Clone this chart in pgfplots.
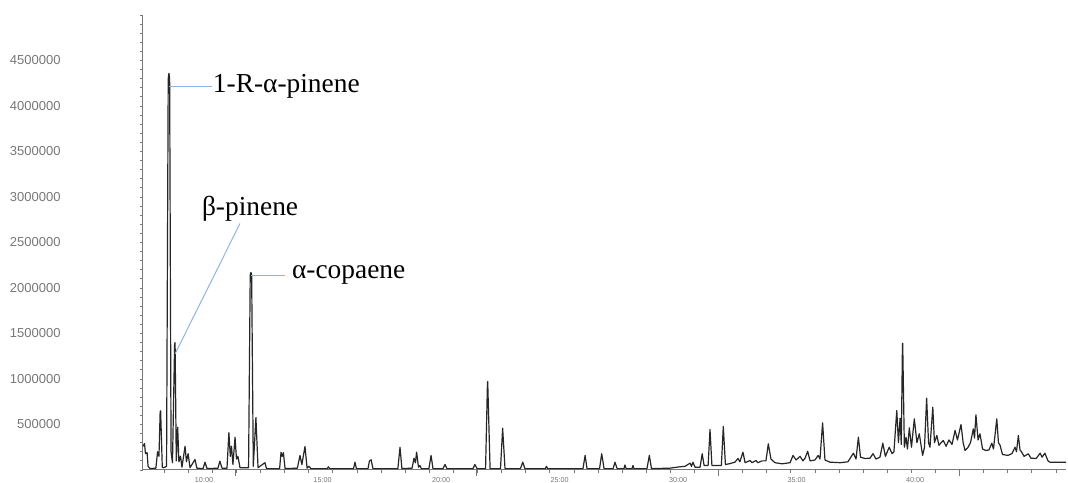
\documentclass[border=0pt]{standalone}
\usepackage{fontspec}
\usepackage{pgfplots}
\pgfplotsset{compat=1.18}
\setmainfont{Liberation Serif}
\newfontfamily\tickfont{Liberation Sans}
\definecolor{lead}{HTML}{8DB4E2}
\definecolor{tickgray}{HTML}{777777}
\begin{document}
\begin{tikzpicture}
\begin{axis}[
  name=ax,
  scale only axis,
  width=461.5pt, height=227.5pt,
  xmin=7.426, xmax=46.37,
  ymin=0, ymax=5000000,
  axis x line=bottom, axis y line=left,
  axis line style={-, draw=tickgray, line width=0.5pt},
  clip=false,
  tick align=outside,
  major tick length=0pt,
  minor tick length=1.4pt,
  every tick/.style={draw=tickgray, line width=0.4pt},
  xtick={10,15,20,25,30,35,40},
  xticklabels={10:00,15:00,20:00,25:00,30:00,35:00,40:00},
  minor xtick={8.32,9.3369,...,46.3},
  extra x ticks={11.31,21.48,31.69,41.86},
  extra x tick labels={},
  extra x tick style={major tick length=3pt},
  ytick={500000,1000000,1500000,2000000,2500000,3000000,3500000,4000000,4500000},
  yticklabels={500000,1000000,1500000,2000000,2500000,3000000,3500000,4000000,4500000},
  minor ytick={0,100000,...,5000000},
  scaled y ticks=false,
  xticklabel style={font=\tickfont\fontsize{3.6}{4}\selectfont, text=tickgray, anchor=center, yshift=-5pt},
  yticklabel style={font=\tickfont\fontsize{6.5}{7}\selectfont, text=tickgray, anchor=east, inner sep=0pt, xshift=-41pt},
]
\addplot[black!85, line width=0.6pt, line join=round] coordinates {
(7.43,260000) (7.49,290000) (7.53,180000) (7.60,190000) (7.64,40000) (7.72,15000)
(7.97,20000) (8.04,200000) (8.10,150000) (8.15,640000) (8.17,650000) (8.24,30000) (8.31,25000)
(8.42,40000) (8.49,4300000) (8.52,4360000) (8.55,4300000) (8.61,200000) (8.67,80000) (8.76,1380000) (8.78,1400000) (8.83,100000)
(8.89,470000) (8.94,90000) (9.01,150000) (9.07,30000) (9.20,260000) (9.26,90000)
(9.33,180000) (9.41,25000) (9.62,115000) (9.70,20000) (9.96,15000) (10.04,85000)
(10.13,15000) (10.59,20000) (10.67,97000) (10.76,20000) (10.97,20000) (11.05,410000)
(11.11,150000) (11.16,260000) (11.22,60000) (11.31,360000) (11.37,120000) (11.43,150000)
(11.52,25000) (11.88,25000) (11.95,2150000) (11.98,2170000) (12.01,2150000) (12.08,40000) (12.19,577000) (12.28,25000)
(12.57,80000) (12.64,15000) (13.19,15000) (13.25,195000) (13.30,150000) (13.35,190000)
(13.42,15000) (13.94,20000) (14.05,160000) (14.13,60000) (14.26,258000) (14.35,20000)
(14.43,40000) (14.51,15000) (15.20,15000) (15.25,35000) (15.30,15000) (16.31,15000) (16.37,86000) (16.43,15000) (16.92,15000)
(16.98,100000) (17.05,112000) (17.13,15000) (18.18,15000) (18.27,250000) (18.35,15000)
(18.78,20000) (18.86,130000) (18.92,80000) (18.97,196000) (19.05,30000) (19.11,50000)
(19.17,15000) (19.49,15000) (19.58,160000) (19.66,15000) (20.08,15000) (20.17,60000)
(20.25,15000) (21.35,15000) (21.43,60000) (21.52,15000) (21.88,15000) (21.96,960000) (21.97,972000)
(22.07,15000) (22.51,15000) (22.60,460000) (22.70,15000) (23.35,15000) (23.45,86000)
(23.54,15000) (24.40,15000) (24.45,40000) (24.50,15000) (25.99,15000) (26.08,160000) (26.16,15000) (26.69,15000) (26.78,178000)
(26.88,15000) (27.26,15000) (27.34,86000) (27.43,15000) (27.72,15000) (27.76,55000)
(27.81,15000) (28.06,15000) (28.10,50000) (28.14,15000) (28.69,15000) (28.79,160000)
(28.88,15000) (29.66,20000) (30.08,35000) (30.29,40000) (30.51,75000) (30.57,40000)
(30.63,86000) (30.72,30000) (30.93,30000) (31.02,178000) (31.10,50000) (31.27,50000)
(31.35,445000) (31.43,50000) (31.83,50000) (31.91,478000) (32.00,60000) (32.19,70000)
(32.40,86000) (32.53,126000) (32.61,90000) (32.74,196000) (32.83,80000) (33.04,104000)
(33.12,80000) (33.29,104000) (33.37,80000) (33.54,100000) (33.71,100000) (33.81,288000)
(33.92,120000) (34.09,80000) (34.39,68000) (34.73,80000) (34.85,160000) (34.98,110000)
(35.15,150000) (35.27,100000) (35.36,130000) (35.47,206000) (35.57,100000) (35.78,110000)
(35.91,160000) (35.99,120000) (36.10,518000) (36.20,110000) (36.41,86000) (36.84,80000)
(37.17,90000) (37.40,185000) (37.51,120000) (37.61,360000) (37.70,140000) (37.89,126000)
(38.10,130000) (38.23,180000) (38.35,120000) (38.52,140000) (38.64,295000) (38.75,150000)
(38.91,250000) (39.03,180000) (39.11,200000) (39.23,654000) (39.30,300000) (39.37,570000)
(39.42,280000) (39.47,1380000) (39.48,1393000) (39.55,250000) (39.62,360000) (39.68,230000) (39.76,463000)
(39.85,250000) (39.97,562000) (40.08,300000) (40.18,398000) (40.32,160000) (40.40,250000)
(40.49,789000) (40.57,300000) (40.63,250000) (40.75,690000) (40.82,300000) (40.92,379000)
(41.01,270000) (41.10,300000) (41.19,324000) (41.31,260000) (41.43,330000) (41.56,280000)
(41.69,434000) (41.79,330000) (41.94,500000) (42.03,300000) (42.11,214000) (42.24,250000)
(42.34,300000) (42.46,452000) (42.51,350000) (42.57,606000) (42.66,330000) (42.74,398000)
(42.85,230000) (42.99,214000) (43.12,220000) (43.24,295000) (43.31,230000) (43.45,562000)
(43.52,300000) (43.59,270000) (43.69,170000) (43.92,160000) (44.09,180000) (44.22,250000)
(44.28,200000) (44.36,379000) (44.43,220000) (44.50,196000) (44.60,150000) (44.78,178000)
(44.89,130000) (45.11,126000) (45.28,185000) (45.36,140000) (45.48,185000) (45.61,100000)
(45.69,86000) (46.37,86000)
};
% leader lines
\draw[lead, line width=0.5pt] (axis cs:8.52,4218000) -- (axis cs:10.34,4218000);
\draw[lead, line width=0.5pt] (axis cs:11.52,2709000) -- (axis cs:8.78,1277000);
\draw[lead, line width=0.5pt] (axis cs:11.98,2137000) -- (axis cs:13.42,2137000);
\node[anchor=west, inner sep=0pt, font=\fontsize{13.7}{15}\selectfont] at (axis cs:10.36,4218000) {1-R-α-pinene};
\node[anchor=west, inner sep=0pt, font=\fontsize{13.7}{15}\selectfont] at (axis cs:9.90,2874000) {β-pinene};
\node[anchor=west, inner sep=0pt, font=\fontsize{13.7}{15}\selectfont] at (axis cs:13.70,2148000) {α-copaene};
\end{axis}
\pgfresetboundingbox
\path ([xshift=-71.5pt,yshift=-6.5pt]ax.south west) rectangle ([xshift=1pt,yshift=7.5pt]ax.north east);
\end{tikzpicture}
\end{document}
